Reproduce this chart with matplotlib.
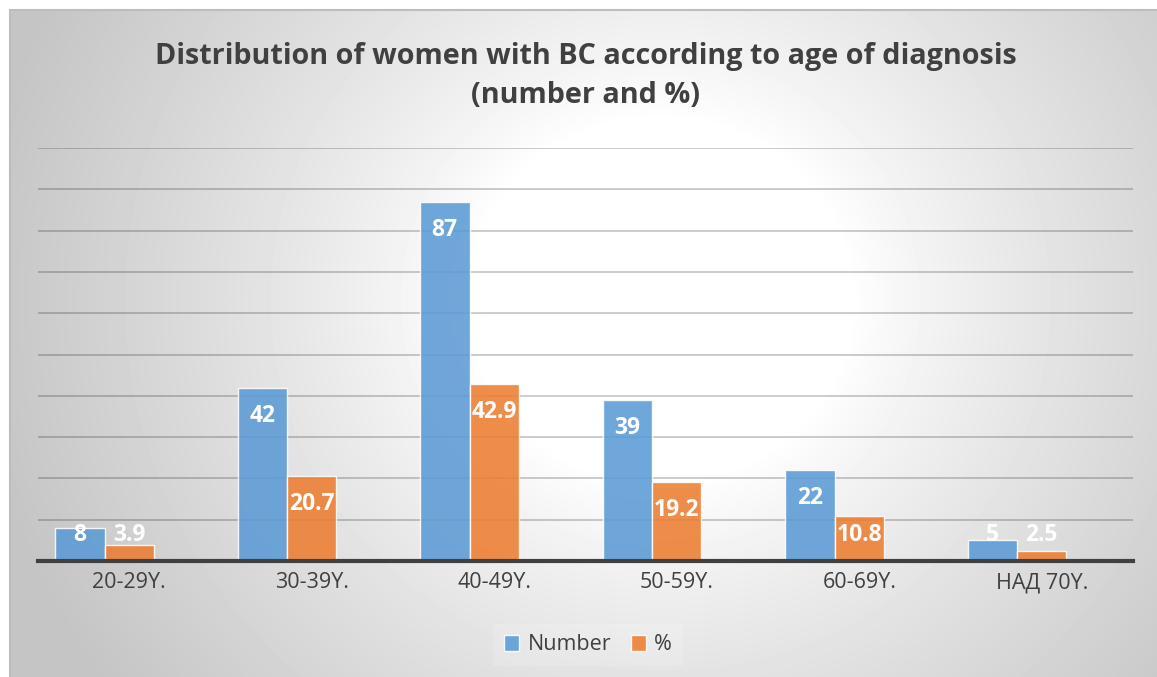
import numpy as np
import matplotlib
matplotlib.use("Agg")
import matplotlib.pyplot as plt
from matplotlib.patches import Patch

plt.rcParams['font.family'] = ['Open Sans', 'DejaVu Sans']

# age groups and values
groups = ['20-29Y.', '30-39Y.', '40-49Y.', '50-59Y.', '60-69Y.', 'НАД 70Y.']
number = [8, 42, 87, 39, 22, 5]
percent = [3.9, 20.7, 42.9, 19.2, 10.8, 2.5]
number_lbl = ['8', '42', '87', '39', '22', '5']
percent_lbl = ['3.9', '20.7', '42.9', '19.2', '10.8', '2.5']

BLUE = '#5b9bd5'
ORANGE = '#ed7d31'
TXT = '#404040'

W, H = 1157, 677
fig = plt.figure(figsize=(W / 100, H / 100), dpi=100)
fig.patch.set_facecolor('white')

# chart area with radial grey->white background
bg = fig.add_axes([10 / W, 0, 1 - 10 / W, 1 - 10 / H])
bg.set_axis_off()
yy, xx = np.mgrid[0:667, 0:1147]
cx, cy = 650, 290
r = np.hypot(xx - cx, (yy - cy) / 0.95)
t = np.clip((r - 190) / 500, 0, 1)
shade = 1.0 - 0.23 * t ** 0.85
bg.imshow(shade, cmap='gray', vmin=0, vmax=1, aspect='auto',
          extent=[0, 1, 0, 1], interpolation='bilinear')
bg.set_xlim(0, 1)
bg.set_ylim(0, 1)
bg.plot([0, 1], [1, 1], color='#bdbdbd', lw=1.5, transform=bg.transAxes, clip_on=False)
bg.plot([0, 0], [0, 1], color='#bdbdbd', lw=1.5, transform=bg.transAxes, clip_on=False)

ax = fig.add_axes([38 / W, 1 - 561 / H, (1133 - 38) / W, (561 - 148) / H])
ax.patch.set_alpha(0)

# third (empty) slot to the right of each pair, so the orange bar sits on the tick
x = np.arange(len(groups))
w = 0.271
xb = x - w
xo = x
ax.bar(xb, number, w, color=BLUE, alpha=0.88,
       edgecolor=(1, 1, 1, 0.5), linewidth=1, zorder=3)
ax.bar(xo, percent, w, color=ORANGE, alpha=0.88,
       edgecolor=(1, 1, 1, 0.5), linewidth=1, zorder=3)

for xs, vals, lbls in ((xb, number, number_lbl), (xo, percent, percent_lbl)):
    for xi, v, s in zip(xs, vals, lbls):
        ax.text(xi, max(v - 6.8, 6.3), s, ha='center', va='center', color='white',
                fontsize=16.5, fontweight='bold', zorder=4)

ax.set_xlim(-0.5, len(groups) - 0.5)
ax.set_ylim(0, 100)
ax.set_yticks(np.arange(10, 101, 10))
ax.yaxis.grid(True, color='black', alpha=0.2, lw=1.4, zorder=0)
ax.tick_params(axis='y', left=False, labelleft=False)
ax.set_xticks(x)
ax.set_xticklabels(groups, fontsize=15.5, color=TXT)
ax.tick_params(axis='x', length=0, pad=8)
for s in ['top', 'right', 'left']:
    ax.spines[s].set_visible(False)
ax.spines['bottom'].set_color('#404040')
ax.spines['bottom'].set_linewidth(3)
ax.spines['bottom'].set_zorder(5)

fig.text(0.506, 1 - 76 / H,
         'Distribution of women with BC according to age of diagnosis\n(number and %)',
         ha='center', va='center', fontsize=20.7, fontweight='bold', color=TXT,
         linespacing=1.45)

handles = [Patch(facecolor=BLUE, alpha=0.88, edgecolor=(1, 1, 1, 0.5)),
           Patch(facecolor=ORANGE, alpha=0.88, edgecolor=(1, 1, 1, 0.5))]
leg = fig.legend(handles, ['Number', '%'], loc='center', bbox_to_anchor=(588 / W, 1 - 645 / H),
                 ncol=2, frameon=True, fontsize=15.5, handlelength=0.7, handleheight=0.7,
                 handletextpad=0.4, columnspacing=0.9, borderpad=0.5)
leg.get_frame().set_facecolor('white')
leg.get_frame().set_alpha(0.15)
leg.get_frame().set_edgecolor('none')
leg.get_frame().set_boxstyle('square', pad=0)
for t in leg.get_texts():
    t.set_color(TXT)

fig.savefig('out.png', dpi=100)
